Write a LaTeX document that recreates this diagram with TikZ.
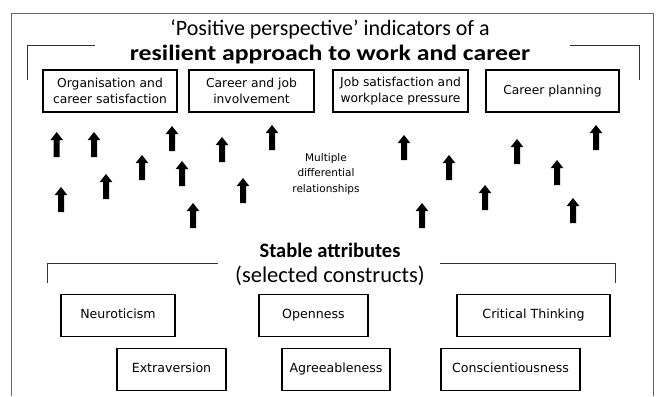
\documentclass[tikz,border=0pt]{standalone}
\usepackage{graphicx}
\usepackage{fontspec}
\newfontfamily\boxfont{DejaVu Sans}
\newfontfamily\titlefont[Ligatures=TeX]{Carlito}
\begin{document}
\begin{tikzpicture}[x=1pt,y=-1pt,
  frameline/.style={draw=black!60,line width=1pt},
  bracketline/.style={draw=black!80,line width=0.9pt},
  itembox/.style={draw=black,line width=1.2pt,align=center,inner sep=2pt,
    font=\boxfont\fontsize{12.3}{16.5}\selectfont},
  attrbox/.style={draw=black,line width=1.2pt,align=center,inner sep=2pt,
    minimum height=42pt,text height=9.5pt,text depth=3pt,font=\boxfont\fontsize{12.6}{15}\selectfont},
  heading/.style={align=center,font=\titlefont\fontsize{22}{25}\selectfont},
  uparrow/.pic={\fill[black] (-3,25) -- (-3,8) -- (-6.3,8) -- (0,0) -- (6.3,8) -- (3,8) -- (3,25) -- cycle;}]
\useasboundingbox (0,0) rectangle (660,396);
% outer frame
\coordinate (fbl) at (11,396);
\coordinate (ftl) at (11,14);
\coordinate (ftr) at (653,14);
\coordinate (fbr) at (653,396);
\draw[frameline] (fbl) -- (ftl) -- (ftr) -- (fbr);
% top heading
\node[heading] (toptitle) at (330,42) {‘Positive perspective’ indicators of a\\\scalebox{1.17}[1]{\textbf{resilient approach to work and career}}};
\coordinate (tl1) at (27,80); \coordinate (tl2) at (27,45); \coordinate (tl3) at (95,45);
\coordinate (tr1) at (570,45); \coordinate (tr2) at (639,45); \coordinate (tr3) at (639,80);
\draw[bracketline] (tl1) -- (tl2) -- (tl3);
\draw[bracketline] (tr1) -- (tr2) -- (tr3);
% top boxes
\node[itembox,minimum width=134pt,minimum height=42pt] (b1) at (110,91) {Organisation and\\career satisfaction};
\node[itembox,minimum width=125pt,minimum height=42pt] (b2) at (251.5,91) {Career and job\\involvement};
\node[itembox,minimum width=135pt,minimum height=42pt] (b3) at (400.5,91) {Job satisfaction and\\workplace pressure};
\node[itembox,minimum width=133pt,minimum height=42pt] (b4) at (552.5,91) {Career planning};
% arrows
\foreach \ax/\ay in {56.7/132,94/132,172/126,222/137,272/125,142/155,182/161,106/174,61/187,243/178,193/203,
  404/135,449/155,517/139,596/125,557/160,485/185,422/203,573/198}
  \pic at (\ax,\ay) {uparrow};
\node[align=center,font=\boxfont\fontsize{10.5}{15.5}\selectfont] (mult) at (326,174) {Multiple\\differential\\relationships};
% lower heading
\node[heading] (bottitle) at (330,264) {\fontsize{20.5}{24}\selectfont\textbf{Stable attributes}\\\fontsize{22.5}{24}\selectfont(selected constructs)};
\coordinate (bl1) at (47,283); \coordinate (bl2) at (47,263); \coordinate (bl3) at (218,263);
\coordinate (br1) at (440,263); \coordinate (br2) at (615,263); \coordinate (br3) at (615,283);
\draw[bracketline] (bl1) -- (bl2) -- (bl3);
\draw[bracketline] (br1) -- (br2) -- (br3);
% attribute boxes
\node[attrbox,minimum width=114pt] (neu) at (118,315.5) {Neuroticism};
\node[attrbox,minimum width=109pt] (ope) at (313.5,315.5) {Openness};
\node[attrbox,minimum width=153pt] (cri) at (533.5,315.5) {Critical Thinking};
\node[attrbox,minimum width=109pt] (ext) at (171.5,369.5) {Extraversion};
\node[attrbox,minimum width=108pt] (agr) at (336,369.5) {Agreeableness};
\node[attrbox,minimum width=139pt] (con) at (510.5,369.5) {Conscientiousness};
\end{tikzpicture}
\end{document}
